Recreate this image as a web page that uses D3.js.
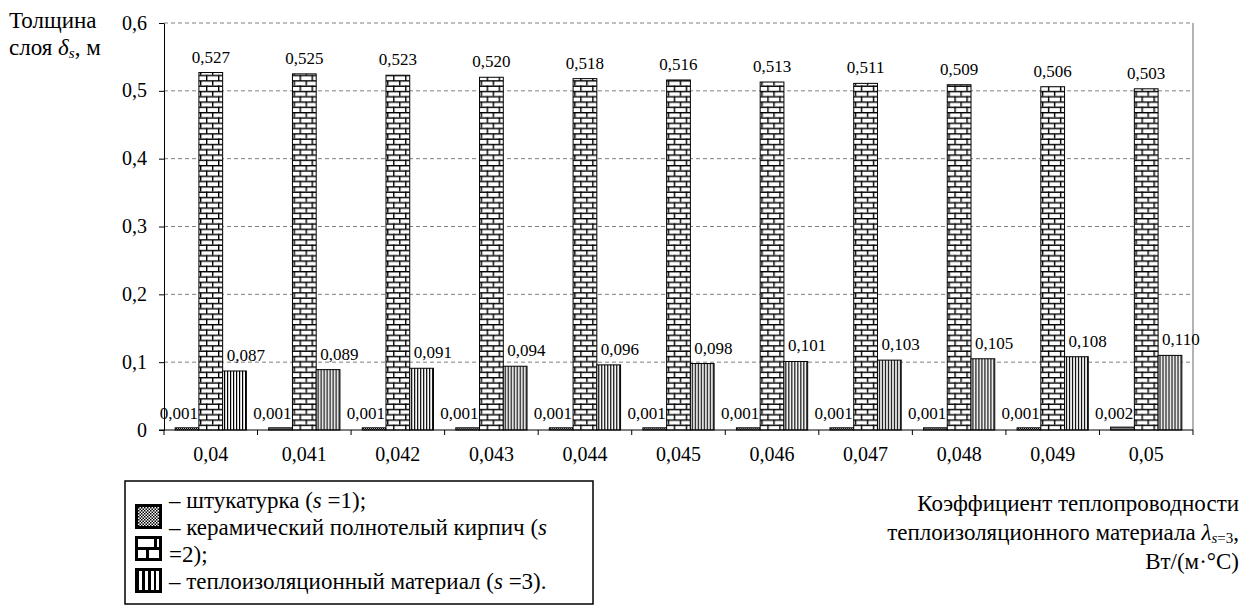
<!DOCTYPE html>
<html>
<head>
<meta charset="utf-8">
<script src="https://cdn.jsdelivr.net/npm/d3@7"></script>
<style>
  body { margin: 0; background: #fff; }
  svg text { font-family: "Liberation Serif", "Times New Roman", serif; fill: #000; }
</style>
</head>
<body>
<div id="chart"></div>
<script>
// data
var categories = ["0,04", "0,041", "0,042", "0,043", "0,044", "0,045", "0,046", "0,047", "0,048", "0,049", "0,05"];
var plaster = [0.001, 0.001, 0.001, 0.001, 0.001, 0.001, 0.001, 0.001, 0.001, 0.001, 0.002];
var brick = [0.527, 0.525, 0.523, 0.520, 0.518, 0.516, 0.513, 0.511, 0.509, 0.506, 0.503];
var insulation = [0.087, 0.089, 0.091, 0.094, 0.096, 0.098, 0.101, 0.103, 0.105, 0.108, 0.110];
var yTicks = [0, 0.1, 0.2, 0.3, 0.4, 0.5, 0.6];
var seriesKeys = ["plaster", "brick", "insulation"];
var seriesData = { plaster: plaster, brick: brick, insulation: insulation };

var w = 1256, h = 606;
var plot = { left: 164, right: 1193, top: 23, bottom: 430 };

var svg = d3.select("#chart").append("svg")
  .attr("width", w).attr("height", h);

// patterns
var defs = svg.append("defs");

var pChk = defs.append("pattern").attr("id", "pat-plaster")
  .attr("patternUnits", "userSpaceOnUse").attr("width", 2).attr("height", 2);
pChk.append("rect").attr("width", 2).attr("height", 2).attr("fill", "#fff");
pChk.append("rect").attr("width", 1).attr("height", 1).attr("fill", "#000");
pChk.append("rect").attr("x", 1).attr("y", 1).attr("width", 1).attr("height", 1).attr("fill", "#000");

var pBrick = defs.append("pattern").attr("id", "pat-brick")
  .attr("patternUnits", "userSpaceOnUse").attr("width", 12).attr("height", 10.6)
  .attr("x", 0).attr("y", plot.bottom);
pBrick.append("rect").attr("width", 12).attr("height", 10.6).attr("fill", "#fff");
pBrick.append("rect").attr("x", 0).attr("y", 0).attr("width", 12).attr("height", 1.4).attr("fill", "#000");
pBrick.append("rect").attr("x", 0).attr("y", 5.3).attr("width", 12).attr("height", 1.4).attr("fill", "#000");
pBrick.append("rect").attr("x", 0).attr("y", 0).attr("width", 1.4).attr("height", 5.3).attr("fill", "#000");
pBrick.append("rect").attr("x", 6).attr("y", 5.3).attr("width", 1.4).attr("height", 5.3).attr("fill", "#000");

var pStripe = defs.append("pattern").attr("id", "pat-insul")
  .attr("patternUnits", "userSpaceOnUse").attr("width", 3).attr("height", 4);
pStripe.append("rect").attr("width", 3).attr("height", 4).attr("fill", "#fff");
pStripe.append("rect").attr("width", 1.2).attr("height", 4).attr("fill", "#000");

var pChkL = defs.append("pattern").attr("id", "pat-plaster-leg")
  .attr("patternUnits", "userSpaceOnUse").attr("width", 3).attr("height", 3);
pChkL.append("rect").attr("width", 3).attr("height", 3).attr("fill", "#fff");
pChkL.append("rect").attr("width", 1.5).attr("height", 1.5).attr("fill", "#000");
pChkL.append("rect").attr("x", 1.5).attr("y", 1.5).attr("width", 1.5).attr("height", 1.5).attr("fill", "#000");

var fills = { plaster: "url(#pat-plaster)", brick: "url(#pat-brick)", insulation: "url(#pat-insul)" };

// scales
var x = d3.scaleBand().domain(categories).range([plot.left, plot.right]).paddingInner(0).paddingOuter(0);
var xInner = d3.scaleBand().domain(seriesKeys).range([0, x.bandwidth()]).paddingInner(0).paddingOuter(0.47);
var y = d3.scaleLinear().domain([0, 0.6]).range([plot.bottom, plot.top]);

var fmt = function (v) { return v === 0 ? "0" : d3.format(".1f")(v).replace(".", ","); };
var fmt3 = function (v) { return d3.format(".3f")(v).replace(".", ","); };

// gridlines
svg.append("g").selectAll("line").data(yTicks.filter(function (d) { return d > 0; }))
  .enter().append("line")
  .attr("x1", plot.left).attr("x2", plot.right)
  .attr("y1", function (d) { return y(d); }).attr("y2", function (d) { return y(d); })
  .attr("stroke", "#808080").attr("stroke-width", 1).attr("stroke-dasharray", "4,3");

// right border
svg.append("line").attr("x1", plot.right).attr("x2", plot.right)
  .attr("y1", plot.top).attr("y2", plot.bottom)
  .attr("stroke", "#808080").attr("stroke-width", 1.2);

// bars
var groups = svg.append("g").selectAll("g")
  .data(categories).enter().append("g")
  .attr("transform", function (d) { return "translate(" + x(d) + ",0)"; });

groups.selectAll("rect")
  .data(function (d, i) { return seriesKeys.map(function (k) { return { key: k, v: seriesData[k][i] }; }); })
  .enter().append("rect")
  .attr("x", function (d) { return xInner(d.key); })
  .attr("y", function (d) { return y(d.v) - (d.key === "plaster" ? 1.5 : 0); })
  .attr("width", xInner.bandwidth())
  .attr("height", function (d) { return y(0) - y(d.v) + (d.key === "plaster" ? 1.5 : 0); })
  .attr("fill", function (d) { return fills[d.key]; })
  .attr("stroke", "#000").attr("stroke-width", 1);

// data labels
groups.selectAll("text.lbl")
  .data(function (d, i) { return seriesKeys.map(function (k) { return { key: k, v: seriesData[k][i] }; }); })
  .enter().append("text").attr("class", "lbl")
  .attr("x", function (d) {
    if (d.key === "plaster") return xInner(d.key) + xInner.bandwidth() - 1;
    if (d.key === "insulation") return xInner(d.key) + 4;
    return xInner(d.key) + xInner.bandwidth() / 2;
  })
  .attr("y", function (d) { return y(d.v) - 10; })
  .attr("text-anchor", function (d) {
    return d.key === "plaster" ? "end" : (d.key === "insulation" ? "start" : "middle");
  })
  .style("font-size", "17px")
  .text(function (d) { return fmt3(d.v); });

// axes
var yAxis = d3.axisLeft(y).tickValues(yTicks).tickFormat(fmt).tickSize(5).tickSizeOuter(0);
var gy = svg.append("g").attr("transform", "translate(" + plot.left + ",0)").call(yAxis);
gy.select(".domain").attr("stroke", "#000");
gy.selectAll("text").style("font-size", "20px").attr("x", -17).attr("dy", "0.3em");

var gx = svg.append("g").attr("transform", "translate(0," + plot.bottom + ")");
gx.append("line").attr("x1", plot.left - 5).attr("x2", plot.right).attr("stroke", "#000");
gx.selectAll("line.tk").data(categories).enter().append("line").attr("class", "tk")
  .attr("x1", function (d) { return x(d) + x.bandwidth(); }).attr("x2", function (d) { return x(d) + x.bandwidth(); })
  .attr("y1", 0).attr("y2", 5).attr("stroke", "#000");
gx.append("line").attr("x1", plot.left).attr("x2", plot.left).attr("y1", 0).attr("y2", 5).attr("stroke", "#000");
gx.selectAll("text").data(categories).enter().append("text")
  .attr("x", function (d) { return x(d) + x.bandwidth() / 2; })
  .attr("y", 31).attr("text-anchor", "middle").style("font-size", "20px")
  .text(function (d) { return d; });

// y title
var yt = svg.append("text").attr("x", 9).attr("y", 28).style("font-size", "23px");
yt.text("Толщина");
var yt2 = svg.append("text").attr("x", 9).attr("y", 55).style("font-size", "23px");
yt2.append("tspan").text("слоя ");
yt2.append("tspan").style("font-style", "italic").text("δ");
yt2.append("tspan").attr("dy", 3).style("font-size", "15px").style("font-style", "italic").text("s");
yt2.append("tspan").attr("dy", -3).text(", м");

// x title
var xt = svg.append("g").attr("text-anchor", "end");
xt.append("text").attr("x", 1239).attr("y", 511).style("font-size", "23px").text("Коэффициент теплопроводности");
var xt2 = xt.append("text").attr("x", 1239).attr("y", 540).style("font-size", "23px");
xt2.append("tspan").text("теплоизоляционного материала ");
xt2.append("tspan").style("font-style", "italic").text("λ");
xt2.append("tspan").attr("dy", 3).style("font-size", "15px").style("font-style", "italic").text("s");
xt2.append("tspan").style("font-size", "15px").text("=3");
xt2.append("tspan").attr("dy", -3).text(",");
xt.append("text").attr("x", 1239).attr("y", 569).style("font-size", "23px").text("Вт/(м·°С)");

// legend
var leg = svg.append("g");
leg.append("rect").attr("x", 125).attr("y", 481).attr("width", 468).attr("height", 123)
  .attr("fill", "#fff").attr("stroke", "#000").attr("stroke-width", 1.5);

var legIcons = [
  { key: "plaster", y: 504 },
  { key: "brick", y: 536 },
  { key: "insulation", y: 568 }
];
var iconX = 135, iconW = 27, iconH = 25;
leg.selectAll("g.icon").data(legIcons).enter().append("g").attr("class", "icon")
  .each(function (d) {
    var g = d3.select(this);
    g.append("rect").attr("x", iconX).attr("y", d.y).attr("width", iconW).attr("height", iconH).attr("fill", "#000");
    if (d.key === "plaster") {
      g.append("rect").attr("x", iconX + 3).attr("y", d.y + 3).attr("width", iconW - 6).attr("height", iconH - 6)
        .attr("fill", "url(#pat-plaster-leg)");
    } else if (d.key === "brick") {
      [[3, 3, 16, 8], [22, 3, 2, 8], [3, 14, 8, 8], [14, 14, 10, 8]].forEach(function (r) {
        g.append("rect").attr("x", iconX + r[0]).attr("y", d.y + r[1]).attr("width", r[2]).attr("height", r[3]).attr("fill", "#fff");
      });
    } else {
      [4, 10, 16, 21].forEach(function (sx) {
        g.append("rect").attr("x", iconX + sx).attr("y", d.y + 3).attr("width", 3).attr("height", iconH - 6).attr("fill", "#fff");
      });
    }
  });

var legLines = [
  [["– штукатурка (", false], ["s", true], [" =1);", false]],
  [["– керамический полнотелый кирпич (", false], ["s", true]],
  [["=2);", false]],
  [["– теплоизоляционный материал (", false], ["s", true], [" =3).", false]]
];
legLines.forEach(function (parts, i) {
  var t = leg.append("text").attr("x", 169).attr("y", 508 + i * 27).style("font-size", "23px");
  parts.forEach(function (p) {
    t.append("tspan").style("font-style", p[1] ? "italic" : "normal").text(p[0]);
  });
});
</script>
</body>
</html>
